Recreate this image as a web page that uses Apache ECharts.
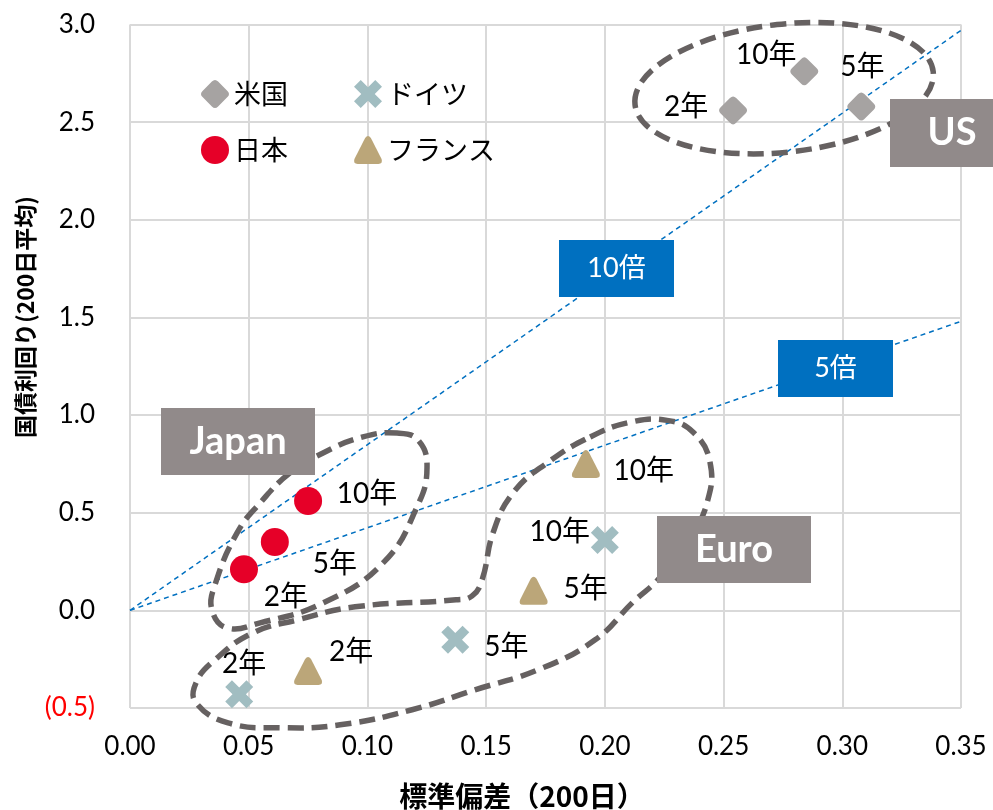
<!DOCTYPE html>
<html>
<head>
<meta charset="utf-8">
<script src="https://cdn.jsdelivr.net/npm/echarts@6/dist/echarts.min.js"></script>
<style>
  html, body { margin: 0; padding: 0; background: #fff; }
  #chart { width: 993px; height: 810px; }
</style>
</head>
<body>
<div id="chart"></div>
<script>
// Government bond yield (200-day average) vs. standard deviation (200 days)
const maturities = ['2年', '5年', '10年'];
const usValues      = [[0.254, 2.56], [0.308, 2.58], [0.284, 2.76]];
const japanValues   = [[0.048, 0.21], [0.061, 0.35], [0.075, 0.56]];
const germanyValues = [[0.046, -0.43], [0.137, -0.15], [0.200, 0.36]];
const franceValues  = [[0.075, -0.31], [0.170, 0.10], [0.192, 0.75]];

// reference ratio lines from the origin
const tenfoldLine  = [[0, 0], [0.35, 2.97]];
const fivefoldLine = [[0, 0], [0.35, 1.48]];

// axis ranges: [min, max, interval]
const xRange = [0, 0.35, 0.05];
const yRange = [-0.5, 3.0, 0.5];

// region outlines, in data units
const japanOutline = [
  [0.1125, 0.908], [0.1213, 0.872], [0.1251, 0.733], [0.1209, 0.530], [0.1066, 0.243],
  [0.0813, 0.038], [0.0548, -0.064], [0.0409, -0.090], [0.0345, 0.003], [0.0358, 0.131],
  [0.0451, 0.397], [0.0548, 0.550], [0.0674, 0.704], [0.0813, 0.806], [0.0981, 0.888]
];
const euroOutline = [
  [0.1938, 0.888], [0.2106, 0.963], [0.2262, 0.973], [0.2372, 0.912], [0.2443, 0.758],
  [0.2431, 0.553], [0.2359, 0.374], [0.2233, 0.169], [0.2119, 0.043], [0.1959, -0.151],
  [0.1719, -0.304], [0.1453, -0.407], [0.1188, -0.509], [0.0885, -0.586], [0.0632, -0.601],
  [0.0413, -0.576], [0.0278, -0.473], [0.0278, -0.371], [0.0358, -0.253], [0.0518, -0.115],
  [0.0708, -0.048], [0.0948, 0.018], [0.1373, 0.054], [0.1441, 0.074], [0.1483, 0.156],
  [0.1529, 0.397], [0.1613, 0.601], [0.1757, 0.755]
];
const usOutlineCenter = [0.2755, 2.674];

const FONT = "Lato, 'Noto Sans CJK JP', sans-serif";
const CJK = "'Noto Sans CJK JP', Lato, sans-serif";

// marker shapes
const diamondPath  = 'path://M4,1 Q5,0 6,1 L9,4 Q10,5 9,6 L6,9 Q5,10 4,9 L1,6 Q0,5 1,4 Z';
const crossPath    = 'path://M2.4,0 L5,2.6 L7.6,0 L10,2.4 L7.4,5 L10,7.6 L7.6,10 L5,7.4 L2.4,10 L0,7.6 L2.6,5 L0,2.4 Z';
const trianglePath = 'path://M4,1 Q5,-0.4 6,1 L9.7,8.3 Q10.2,10 8.6,10 L1.4,10 Q-0.2,10 0.3,8.3 Z';

// label offsets per maturity (px from marker centre)
const usLabelOffsets      = [[-47, -3], [1, -40], [-38, -16]];
const japanLabelOffsets   = [[42, 28], [60, 22], [59, -7]];
const germanyLabelOffsets = [[5, -30], [51, 7], [-45, -8]];
const franceLabelOffsets  = [[43, -19], [52, -2], [58, 7]];

function pointData(values, offsets) {
  return values.map((v, i) => ({
    value: v,
    name: maturities[i],
    label: { offset: offsets[i] }
  }));
}

function scatterSeries(name, symbol, color, values, offsets) {
  return {
    name: name,
    type: 'scatter',
    symbol: symbol,
    symbolSize: 28,
    itemStyle: { color: color, opacity: 1 },
    z: 5,
    label: {
      show: true,
      position: 'inside',
      formatter: '{b}',
      color: '#000',
      fontSize: 28,
      fontFamily: FONT,
      align: 'center',
      verticalAlign: 'middle'
    },
    emphasis: { disabled: true },
    data: pointData(values, offsets)
  };
}

function refLine(data) {
  return {
    type: 'line',
    data: data,
    symbol: 'none',
    silent: true,
    z: 2,
    lineStyle: { color: '#0070C0', width: 1.5, type: [5, 4] }
  };
}

const chart = echarts.init(document.getElementById('chart'), null, { renderer: 'canvas' });

const legendText = { fontSize: 27, fontFamily: CJK, color: '#000' };

chart.setOption({
  animation: false,
  backgroundColor: '#fff',
  grid: { left: 130, right: 32, top: 24.5, bottom: 102 },
  legend: [
    {
      data: ['米国', '日本'], orient: 'vertical', left: 196, top: 75,
      itemWidth: 28, itemHeight: 28, itemGap: 28, textStyle: legendText, selectedMode: false
    },
    {
      data: ['ドイツ', 'フランス'], orient: 'vertical', left: 349, top: 75,
      itemWidth: 28, itemHeight: 28, itemGap: 28, textStyle: legendText, selectedMode: false
    }
  ],
  xAxis: {
    type: 'value', min: xRange[0], max: xRange[1], interval: xRange[2],
    axisLine: { show: false }, axisTick: { show: false },
    splitLine: { show: true, lineStyle: { color: '#D9D9D9', width: 2 } },
    axisLabel: {
      margin: 26, fontSize: 26, fontFamily: FONT, color: '#000',
      formatter: v => v.toFixed(2)
    }
  },
  yAxis: {
    type: 'value', min: yRange[0], max: yRange[1], interval: yRange[2],
    axisLine: { show: false }, axisTick: { show: false },
    splitLine: { show: true, lineStyle: { color: '#D9D9D9', width: 2 } },
    axisLabel: {
      margin: 35, fontSize: 26, fontFamily: FONT,
      color: v => (Number(v) < 0 ? '#FF0000' : '#000'),
      formatter: v => v < 0 ? '(' + Math.abs(v).toFixed(1) + ')' : v.toFixed(1)
    }
  },
  series: [
    refLine(tenfoldLine),
    refLine(fivefoldLine),
    scatterSeries('米国', diamondPath, '#A6A3A2', usValues, usLabelOffsets),
    scatterSeries('日本', 'circle', '#E60028', japanValues, japanLabelOffsets),
    scatterSeries('ドイツ', crossPath, '#A1BDC1', germanyValues, germanyLabelOffsets),
    scatterSeries('フランス', trianglePath, '#BBA679', franceValues, franceLabelOffsets)
  ]
});

// annotations: dashed region outlines, region tags and ratio tags
const toPx = p => chart.convertToPixel({ gridIndex: 0 }, p);
const outlineStyle = { fill: 'none', stroke: '#666161', lineWidth: 5.5, lineDash: [16, 8] };

function tag(x, y, w, h, fill, text, font) {
  return [
    { type: 'rect', z: 20, shape: { x: x, y: y, width: w, height: h }, style: { fill: fill } },
    {
      type: 'text', z: 21, x: x + w / 2, y: y + h / 2,
      style: {
        text: text, font: font, fill: '#fff',
        align: 'center', verticalAlign: 'middle',
        textAlign: 'center', textVerticalAlign: 'middle'
      }
    }
  ];
}

const usC = toPx(usOutlineCenter);
const graphics = [
  {
    type: 'polygon', z: 10, silent: true,
    shape: { points: japanOutline.map(toPx), smooth: 0.45 },
    style: outlineStyle
  },
  {
    type: 'polygon', z: 10, silent: true,
    shape: { points: euroOutline.map(toPx), smooth: 0.45 },
    style: outlineStyle
  },
  {
    type: 'ellipse', z: 10, silent: true, x: usC[0], y: usC[1], rotation: 0.11,
    shape: { cx: 0, cy: 0, rx: 150, ry: 64 },
    style: outlineStyle
  },
  ...tag(890, 99, 124, 68, '#918A8A', 'US', 'bold 38px ' + FONT),
  ...tag(161, 408, 154, 67, '#918A8A', 'Japan', 'bold 38px ' + FONT),
  ...tag(657, 516, 154, 67, '#918A8A', 'Euro', 'bold 38px ' + FONT),
  ...tag(559, 240, 115, 57, '#0070C0', '10倍', '27px ' + FONT),
  ...tag(778, 340, 115, 57, '#0070C0', '5倍', '27px ' + FONT),
  {
    type: 'text', z: 21, x: 522, y: 796,
    style: {
      text: '標準偏差（200日）', font: 'bold 28px ' + CJK, fill: '#000',
      align: 'center', verticalAlign: 'middle', textAlign: 'center', textVerticalAlign: 'middle'
    }
  },
  {
    type: 'text', z: 21, x: 25, y: 317, rotation: Math.PI / 2,
    style: {
      text: '国債利回り(200日平均)', font: 'bold 23px ' + CJK, fill: '#000',
      align: 'center', verticalAlign: 'middle', textAlign: 'center', textVerticalAlign: 'middle'
    }
  }
];

chart.setOption({ graphic: graphics });
</script>
</body>
</html>
